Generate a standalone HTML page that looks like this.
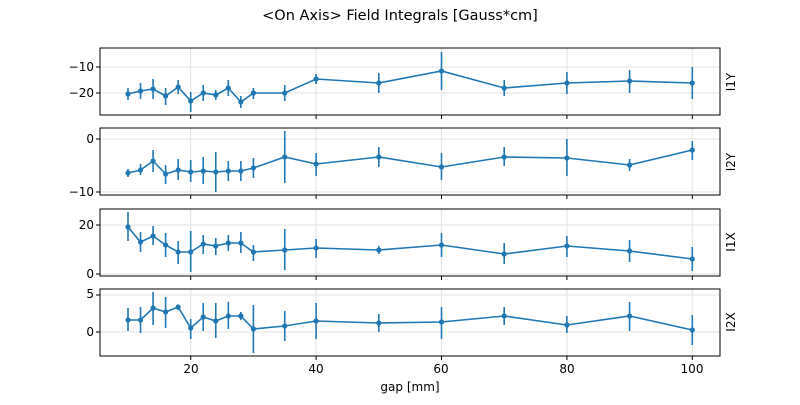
<!DOCTYPE html>
<html><head><meta charset="utf-8"><style>
body{margin:0;background:#fff;width:800px;height:400px;overflow:hidden}
svg{font-family:"DejaVu Sans","Liberation Sans",sans-serif}
</style></head><body>
<svg id="s" width="800" height="400" xmlns="http://www.w3.org/2000/svg">
<text x="400" y="20" font-size="14.5" text-anchor="middle">&lt;On Axis&gt; Field Integrals [Gauss*cm]</text>
<g font-size="12" text-anchor="end">
<text x="94" y="71">−10</text><text x="94" y="97">−20</text>
<text x="94" y="143">0</text><text x="94" y="196">−10</text>
<text x="94" y="229">20</text><text x="94" y="278">0</text>
<text x="94" y="298">5</text><text x="94" y="336">0</text>
</g>
<g font-size="12" text-anchor="middle">
<text x="191" y="373">20</text><text x="316" y="373">40</text><text x="441" y="373">60</text><text x="567" y="373">80</text><text x="692" y="373">100</text>
<text x="410" y="391">gap [mm]</text>
</g>
<g font-size="12" text-anchor="middle">
<text transform="translate(735,82) rotate(-90)">I1Y</text>
<text transform="translate(735,162) rotate(-90)">I2Y</text>
<text transform="translate(735,242) rotate(-90)">I1X</text>
<text transform="translate(735,322) rotate(-90)">I2X</text>
</g>
<g id="g"></g>
</svg>
<script>
var xs=[10,12,14,16,18,20,22,24,26,28,30,35,40,50,60,70,80,90,100];
function px(x){return 65.3+6.27*x;}
var P=[
{t:48,b:115,h:[67,93],d:[[94,88,100],[91,83,99],[89,79,99],[96,88,105],[87,80,94],[101,92,112],[93,85,101],[95,90,100],[88,80,96],[102,96,108],[93,88,99],[93,85,101],[79,74,84],[83,73,93],[71,52,90],[88,80,96],[83,72,94],[81,70,93],[83,67,99]]},
{t:128,b:195,h:[139,192],d:[[173,169,177],[170,164,175],[161,150,172],[174,165,184],[170,159,180],[172,160,182],[171,157,184],[172,152,192],[171,161,181],[171,161,181],[168,158,178],[157,131,183],[164,153,176],[157,147,167],[167,153,180],[157,147,166],[158,139,176],[165,159,171],[150,141,160]]},
{t:209,b:276,h:[225,274],d:[[227,212,241],[242,232,252],[236,226,245],[245,233,257],[252,241,264],[252,231,272],[244,235,254],[246,238,255],[243,235,251],[243,232,253],[252,245,261],[250,229,270],[248,239,258],[250,246,254],[245,233,257],[254,243,264],[246,236,257],[251,240,262],[259,247,271]]},
{t:289,b:356,h:[295,332],d:[[320,308,331],[320,307,333],[308,292,325],[312,297,328],[307,305,310],[328,319,339],[317,303,331],[321,303,338],[316,302,329],[316,312,320],[329,305,353],[326,311,341],[321,303,339],[323,314,332],[322,307,339],[316,307,325],[325,316,333],[316,302,331],[330,315,345]]}];
var h='';
P.forEach(function(p){
 [20,40,60,80,100].forEach(function(v){var x=px(v);h+='<line x1="'+x+'" x2="'+x+'" y1="'+p.t+'" y2="'+p.b+'" stroke="#e6e6e6" stroke-width="1.2"/><line x1="'+x+'" x2="'+x+'" y1="'+p.b+'" y2="'+(p.b+4)+'" stroke="#000"/>';});
 p.h.forEach(function(y){h+='<line x1="100" x2="720" y1="'+y+'" y2="'+y+'" stroke="#e6e6e6" stroke-width="1.2"/><line x1="96" x2="100" y1="'+y+'" y2="'+y+'" stroke="#000"/>';});
 var pts=p.d.map(function(d,i){return px(xs[i])+','+d[0];}).join(' ');
 p.d.forEach(function(d,i){var x=px(xs[i]);h+='<line x1="'+x+'" x2="'+x+'" y1="'+d[1]+'" y2="'+d[2]+'" stroke="#1f77b4" stroke-width="1.6"/><circle cx="'+x+'" cy="'+d[0]+'" r="2.6" fill="#1f77b4"/>';});
 h+='<polyline points="'+pts+'" fill="none" stroke="#1f77b4" stroke-width="1.6"/>';
 h+='<rect x="100" y="'+p.t+'" width="620" height="'+(p.b-p.t)+'" fill="none" stroke="#000" stroke-width="1"/>';
});
document.getElementById('g').innerHTML=h;
</script>
</body></html>
